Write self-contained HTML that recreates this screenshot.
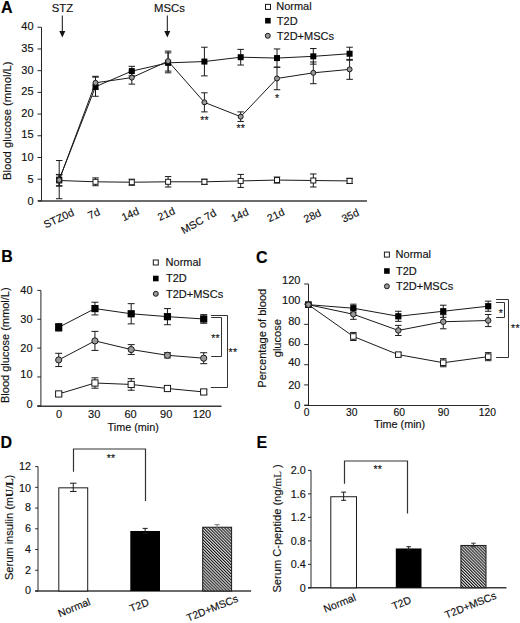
<!DOCTYPE html>
<html><head><meta charset="utf-8"><title>Figure</title>
<style>
html,body{margin:0;padding:0;background:#fff;}
svg{display:block;}
text{font-family:"Liberation Sans", sans-serif;stroke:#111;stroke-width:0.15px;}
</style></head>
<body>
<svg width="520" height="623" viewBox="0 0 520 623">
<defs>
<pattern id="hatch" patternUnits="userSpaceOnUse" width="2.15" height="4" patternTransform="rotate(-45)">
<rect width="2.15" height="4" fill="#dcdcdc"/>
<rect width="1.0" height="4" fill="#111"/>
</pattern>
</defs>
<rect width="520" height="623" fill="#fff"/>
<line x1="41.5" y1="27.25" x2="41.5" y2="201.4" stroke="#262626" stroke-width="1"/>
<line x1="38" y1="201" x2="367" y2="201" stroke="#3a3a3a" stroke-width="1.4"/>
<line x1="37.5" y1="200.9" x2="41.5" y2="200.9" stroke="#262626" stroke-width="1"/>
<text x="33.6" y="204.9" font-size="11" text-anchor="end" font-weight="normal" fill="#111">0</text>
<line x1="37.5" y1="179.19" x2="41.5" y2="179.19" stroke="#262626" stroke-width="1"/>
<text x="33.6" y="183.2" font-size="11" text-anchor="end" font-weight="normal" fill="#111">5</text>
<line x1="37.5" y1="157.49" x2="41.5" y2="157.49" stroke="#262626" stroke-width="1"/>
<text x="33.6" y="160.8" font-size="11" text-anchor="end" font-weight="normal" fill="#111">10</text>
<line x1="37.5" y1="135.78" x2="41.5" y2="135.78" stroke="#262626" stroke-width="1"/>
<text x="33.6" y="138.4" font-size="11" text-anchor="end" font-weight="normal" fill="#111">15</text>
<line x1="37.5" y1="114.07" x2="41.5" y2="114.07" stroke="#262626" stroke-width="1"/>
<text x="33.6" y="117.1" font-size="11" text-anchor="end" font-weight="normal" fill="#111">20</text>
<line x1="37.5" y1="92.37" x2="41.5" y2="92.37" stroke="#262626" stroke-width="1"/>
<text x="33.6" y="95.2" font-size="11" text-anchor="end" font-weight="normal" fill="#111">25</text>
<line x1="37.5" y1="70.66" x2="41.5" y2="70.66" stroke="#262626" stroke-width="1"/>
<text x="33.6" y="73.65" font-size="11" text-anchor="end" font-weight="normal" fill="#111">30</text>
<line x1="37.5" y1="48.96" x2="41.5" y2="48.96" stroke="#262626" stroke-width="1"/>
<text x="33.6" y="51.5" font-size="11" text-anchor="end" font-weight="normal" fill="#111">35</text>
<line x1="37.5" y1="27.25" x2="41.5" y2="27.25" stroke="#262626" stroke-width="1"/>
<text x="33.6" y="29.65" font-size="11" text-anchor="end" font-weight="normal" fill="#111">40</text>
<text x="10.8" y="120.7" font-size="11.3" text-anchor="middle" font-weight="normal" fill="#111" transform="rotate(-90 10.8 120.7)">Blood glucose (mmol/L)</text>
<line x1="59.2" y1="174.85" x2="59.2" y2="186.14" stroke="#1a1a1a" stroke-width="1"/>
<line x1="55.95" y1="174.85" x2="62.45" y2="174.85" stroke="#1a1a1a" stroke-width="1"/>
<line x1="55.95" y1="186.14" x2="62.45" y2="186.14" stroke="#1a1a1a" stroke-width="1"/>
<line x1="59.2" y1="160.53" x2="59.2" y2="198.73" stroke="#1a1a1a" stroke-width="1"/>
<line x1="55.95" y1="160.53" x2="62.45" y2="160.53" stroke="#1a1a1a" stroke-width="1"/>
<line x1="55.95" y1="198.73" x2="62.45" y2="198.73" stroke="#1a1a1a" stroke-width="1"/>
<line x1="59.2" y1="174.42" x2="59.2" y2="185.71" stroke="#1a1a1a" stroke-width="1"/>
<line x1="55.95" y1="174.42" x2="62.45" y2="174.42" stroke="#1a1a1a" stroke-width="1"/>
<line x1="55.95" y1="185.71" x2="62.45" y2="185.71" stroke="#1a1a1a" stroke-width="1"/>
<line x1="95.5" y1="177.89" x2="95.5" y2="185.71" stroke="#1a1a1a" stroke-width="1"/>
<line x1="92.25" y1="177.89" x2="98.75" y2="177.89" stroke="#1a1a1a" stroke-width="1"/>
<line x1="92.25" y1="185.71" x2="98.75" y2="185.71" stroke="#1a1a1a" stroke-width="1"/>
<line x1="95.5" y1="77.17" x2="95.5" y2="96.28" stroke="#1a1a1a" stroke-width="1"/>
<line x1="92.25" y1="77.17" x2="98.75" y2="77.17" stroke="#1a1a1a" stroke-width="1"/>
<line x1="92.25" y1="96.28" x2="98.75" y2="96.28" stroke="#1a1a1a" stroke-width="1"/>
<line x1="95.5" y1="76.31" x2="95.5" y2="89.33" stroke="#1a1a1a" stroke-width="1"/>
<line x1="92.25" y1="76.31" x2="98.75" y2="76.31" stroke="#1a1a1a" stroke-width="1"/>
<line x1="92.25" y1="89.33" x2="98.75" y2="89.33" stroke="#1a1a1a" stroke-width="1"/>
<line x1="131.8" y1="179.19" x2="131.8" y2="185.27" stroke="#1a1a1a" stroke-width="1"/>
<line x1="128.55" y1="179.19" x2="135.05" y2="179.19" stroke="#1a1a1a" stroke-width="1"/>
<line x1="128.55" y1="185.27" x2="135.05" y2="185.27" stroke="#1a1a1a" stroke-width="1"/>
<line x1="131.8" y1="66.32" x2="131.8" y2="75.87" stroke="#1a1a1a" stroke-width="1"/>
<line x1="128.55" y1="66.32" x2="135.05" y2="66.32" stroke="#1a1a1a" stroke-width="1"/>
<line x1="128.55" y1="75.87" x2="135.05" y2="75.87" stroke="#1a1a1a" stroke-width="1"/>
<line x1="131.8" y1="71.1" x2="131.8" y2="84.12" stroke="#1a1a1a" stroke-width="1"/>
<line x1="128.55" y1="71.1" x2="135.05" y2="71.1" stroke="#1a1a1a" stroke-width="1"/>
<line x1="128.55" y1="84.12" x2="135.05" y2="84.12" stroke="#1a1a1a" stroke-width="1"/>
<line x1="168.1" y1="176.59" x2="168.1" y2="187.01" stroke="#1a1a1a" stroke-width="1"/>
<line x1="164.85" y1="176.59" x2="171.35" y2="176.59" stroke="#1a1a1a" stroke-width="1"/>
<line x1="164.85" y1="187.01" x2="171.35" y2="187.01" stroke="#1a1a1a" stroke-width="1"/>
<line x1="168.1" y1="52.86" x2="168.1" y2="72.83" stroke="#1a1a1a" stroke-width="1"/>
<line x1="164.85" y1="52.86" x2="171.35" y2="52.86" stroke="#1a1a1a" stroke-width="1"/>
<line x1="164.85" y1="72.83" x2="171.35" y2="72.83" stroke="#1a1a1a" stroke-width="1"/>
<line x1="168.1" y1="51.13" x2="168.1" y2="71.1" stroke="#1a1a1a" stroke-width="1"/>
<line x1="164.85" y1="51.13" x2="171.35" y2="51.13" stroke="#1a1a1a" stroke-width="1"/>
<line x1="164.85" y1="71.1" x2="171.35" y2="71.1" stroke="#1a1a1a" stroke-width="1"/>
<line x1="204.4" y1="179.19" x2="204.4" y2="184.4" stroke="#1a1a1a" stroke-width="1"/>
<line x1="201.15" y1="179.19" x2="207.65" y2="179.19" stroke="#1a1a1a" stroke-width="1"/>
<line x1="201.15" y1="184.4" x2="207.65" y2="184.4" stroke="#1a1a1a" stroke-width="1"/>
<line x1="204.4" y1="47.22" x2="204.4" y2="75.87" stroke="#1a1a1a" stroke-width="1"/>
<line x1="201.15" y1="47.22" x2="207.65" y2="47.22" stroke="#1a1a1a" stroke-width="1"/>
<line x1="201.15" y1="75.87" x2="207.65" y2="75.87" stroke="#1a1a1a" stroke-width="1"/>
<line x1="204.4" y1="92.8" x2="204.4" y2="111.9" stroke="#1a1a1a" stroke-width="1"/>
<line x1="201.15" y1="92.8" x2="207.65" y2="92.8" stroke="#1a1a1a" stroke-width="1"/>
<line x1="201.15" y1="111.9" x2="207.65" y2="111.9" stroke="#1a1a1a" stroke-width="1"/>
<line x1="240.7" y1="174.42" x2="240.7" y2="187.44" stroke="#1a1a1a" stroke-width="1"/>
<line x1="237.45" y1="174.42" x2="243.95" y2="174.42" stroke="#1a1a1a" stroke-width="1"/>
<line x1="237.45" y1="187.44" x2="243.95" y2="187.44" stroke="#1a1a1a" stroke-width="1"/>
<line x1="240.7" y1="49.39" x2="240.7" y2="65.02" stroke="#1a1a1a" stroke-width="1"/>
<line x1="237.45" y1="49.39" x2="243.95" y2="49.39" stroke="#1a1a1a" stroke-width="1"/>
<line x1="237.45" y1="65.02" x2="243.95" y2="65.02" stroke="#1a1a1a" stroke-width="1"/>
<line x1="240.7" y1="111.9" x2="240.7" y2="121.46" stroke="#1a1a1a" stroke-width="1"/>
<line x1="237.45" y1="111.9" x2="243.95" y2="111.9" stroke="#1a1a1a" stroke-width="1"/>
<line x1="237.45" y1="121.46" x2="243.95" y2="121.46" stroke="#1a1a1a" stroke-width="1"/>
<line x1="277" y1="177.02" x2="277" y2="183.1" stroke="#1a1a1a" stroke-width="1"/>
<line x1="273.75" y1="177.02" x2="280.25" y2="177.02" stroke="#1a1a1a" stroke-width="1"/>
<line x1="273.75" y1="183.1" x2="280.25" y2="183.1" stroke="#1a1a1a" stroke-width="1"/>
<line x1="277" y1="48.96" x2="277" y2="67.19" stroke="#1a1a1a" stroke-width="1"/>
<line x1="273.75" y1="48.96" x2="280.25" y2="48.96" stroke="#1a1a1a" stroke-width="1"/>
<line x1="273.75" y1="67.19" x2="280.25" y2="67.19" stroke="#1a1a1a" stroke-width="1"/>
<line x1="277" y1="67.19" x2="277" y2="89.76" stroke="#1a1a1a" stroke-width="1"/>
<line x1="273.75" y1="67.19" x2="280.25" y2="67.19" stroke="#1a1a1a" stroke-width="1"/>
<line x1="273.75" y1="89.76" x2="280.25" y2="89.76" stroke="#1a1a1a" stroke-width="1"/>
<line x1="313.3" y1="173.98" x2="313.3" y2="187.01" stroke="#1a1a1a" stroke-width="1"/>
<line x1="310.05" y1="173.98" x2="316.55" y2="173.98" stroke="#1a1a1a" stroke-width="1"/>
<line x1="310.05" y1="187.01" x2="316.55" y2="187.01" stroke="#1a1a1a" stroke-width="1"/>
<line x1="313.3" y1="48.52" x2="313.3" y2="64.15" stroke="#1a1a1a" stroke-width="1"/>
<line x1="310.05" y1="48.52" x2="316.55" y2="48.52" stroke="#1a1a1a" stroke-width="1"/>
<line x1="310.05" y1="64.15" x2="316.55" y2="64.15" stroke="#1a1a1a" stroke-width="1"/>
<line x1="313.3" y1="61.98" x2="313.3" y2="83.69" stroke="#1a1a1a" stroke-width="1"/>
<line x1="310.05" y1="61.98" x2="316.55" y2="61.98" stroke="#1a1a1a" stroke-width="1"/>
<line x1="310.05" y1="83.69" x2="316.55" y2="83.69" stroke="#1a1a1a" stroke-width="1"/>
<line x1="349.6" y1="178.33" x2="349.6" y2="183.53" stroke="#1a1a1a" stroke-width="1"/>
<line x1="346.35" y1="178.33" x2="352.85" y2="178.33" stroke="#1a1a1a" stroke-width="1"/>
<line x1="346.35" y1="183.53" x2="352.85" y2="183.53" stroke="#1a1a1a" stroke-width="1"/>
<line x1="349.6" y1="47.22" x2="349.6" y2="60.24" stroke="#1a1a1a" stroke-width="1"/>
<line x1="346.35" y1="47.22" x2="352.85" y2="47.22" stroke="#1a1a1a" stroke-width="1"/>
<line x1="346.35" y1="60.24" x2="352.85" y2="60.24" stroke="#1a1a1a" stroke-width="1"/>
<line x1="349.6" y1="59.38" x2="349.6" y2="79.34" stroke="#1a1a1a" stroke-width="1"/>
<line x1="346.35" y1="59.38" x2="352.85" y2="59.38" stroke="#1a1a1a" stroke-width="1"/>
<line x1="346.35" y1="79.34" x2="352.85" y2="79.34" stroke="#1a1a1a" stroke-width="1"/>
<polyline points="59.2,180.5 95.5,181.8 131.8,182.23 168.1,181.8 204.4,181.8 240.7,180.93 277,180.06 313.3,180.5 349.6,180.93" fill="none" stroke="#1a1a1a" stroke-width="1"/>
<polyline points="59.2,179.63 95.5,86.73 131.8,71.1 168.1,62.85 204.4,61.55 240.7,57.2 277,58.07 313.3,56.34 349.6,53.73" fill="none" stroke="#1a1a1a" stroke-width="1"/>
<polyline points="59.2,180.06 95.5,82.82 131.8,77.61 168.1,61.11 204.4,102.35 240.7,116.68 277,78.48 313.3,72.83 349.6,69.36" fill="none" stroke="#1a1a1a" stroke-width="1"/>
<rect x="56.7" y="178" width="5" height="5" fill="#fff" stroke="#1a1a1a" stroke-width="1"/>
<rect x="56.2" y="176.63" width="6" height="6" fill="#000"/>
<circle cx="59.2" cy="180.06" r="2.5" fill="#999" stroke="#1a1a1a" stroke-width="1"/>
<rect x="93" y="179.3" width="5" height="5" fill="#fff" stroke="#1a1a1a" stroke-width="1"/>
<rect x="92.5" y="83.73" width="6" height="6" fill="#000"/>
<circle cx="95.5" cy="82.82" r="2.5" fill="#999" stroke="#1a1a1a" stroke-width="1"/>
<rect x="129.3" y="179.73" width="5" height="5" fill="#fff" stroke="#1a1a1a" stroke-width="1"/>
<rect x="128.8" y="68.1" width="6" height="6" fill="#000"/>
<circle cx="131.8" cy="77.61" r="2.5" fill="#999" stroke="#1a1a1a" stroke-width="1"/>
<rect x="165.6" y="179.3" width="5" height="5" fill="#fff" stroke="#1a1a1a" stroke-width="1"/>
<rect x="165.1" y="59.85" width="6" height="6" fill="#000"/>
<circle cx="168.1" cy="61.11" r="2.5" fill="#999" stroke="#1a1a1a" stroke-width="1"/>
<rect x="201.9" y="179.3" width="5" height="5" fill="#fff" stroke="#1a1a1a" stroke-width="1"/>
<rect x="201.4" y="58.55" width="6" height="6" fill="#000"/>
<circle cx="204.4" cy="102.35" r="2.5" fill="#999" stroke="#1a1a1a" stroke-width="1"/>
<rect x="238.2" y="178.43" width="5" height="5" fill="#fff" stroke="#1a1a1a" stroke-width="1"/>
<rect x="237.7" y="54.2" width="6" height="6" fill="#000"/>
<circle cx="240.7" cy="116.68" r="2.5" fill="#999" stroke="#1a1a1a" stroke-width="1"/>
<rect x="274.5" y="177.56" width="5" height="5" fill="#fff" stroke="#1a1a1a" stroke-width="1"/>
<rect x="274" y="55.07" width="6" height="6" fill="#000"/>
<circle cx="277" cy="78.48" r="2.5" fill="#999" stroke="#1a1a1a" stroke-width="1"/>
<rect x="310.8" y="178" width="5" height="5" fill="#fff" stroke="#1a1a1a" stroke-width="1"/>
<rect x="310.3" y="53.34" width="6" height="6" fill="#000"/>
<circle cx="313.3" cy="72.83" r="2.5" fill="#999" stroke="#1a1a1a" stroke-width="1"/>
<rect x="347.1" y="178.43" width="5" height="5" fill="#fff" stroke="#1a1a1a" stroke-width="1"/>
<rect x="346.6" y="50.73" width="6" height="6" fill="#000"/>
<circle cx="349.6" cy="69.36" r="2.5" fill="#999" stroke="#1a1a1a" stroke-width="1"/>
<text x="202.25" y="124.15" font-size="10.5" text-anchor="middle" fill="#222" stroke="none">*</text>
<text x="206.55" y="124.15" font-size="10.5" text-anchor="middle" fill="#222" stroke="none">*</text>
<text x="238.45" y="132.35" font-size="10.5" text-anchor="middle" fill="#222" stroke="none">*</text>
<text x="242.75" y="132.35" font-size="10.5" text-anchor="middle" fill="#222" stroke="none">*</text>
<text x="277" y="102.15" font-size="10.5" text-anchor="middle" fill="#222" stroke="none">*</text>
<text x="0" y="3.6" font-size="10.7" text-anchor="middle" fill="#111" transform="translate(58.8 218.4) rotate(-25)">STZ0d</text>
<text x="0" y="3.6" font-size="10.7" text-anchor="middle" fill="#111" transform="translate(93.9 213.8) rotate(-25)">7d</text>
<text x="0" y="3.6" font-size="10.7" text-anchor="middle" fill="#111" transform="translate(130.2 214.2) rotate(-25)">14d</text>
<text x="0" y="3.6" font-size="10.7" text-anchor="middle" fill="#111" transform="translate(166.3 214) rotate(-25)">21d</text>
<text x="0" y="3.6" font-size="10.7" text-anchor="middle" fill="#111" transform="translate(198.7 221.6) rotate(-30)">MSC 7d</text>
<text x="0" y="3.6" font-size="10.7" text-anchor="middle" fill="#111" transform="translate(239.7 215.1) rotate(-25)">14d</text>
<text x="0" y="3.6" font-size="10.7" text-anchor="middle" fill="#111" transform="translate(275.9 215.1) rotate(-25)">21d</text>
<text x="0" y="3.6" font-size="10.7" text-anchor="middle" fill="#111" transform="translate(312.3 215.9) rotate(-25)">28d</text>
<text x="0" y="3.6" font-size="10.7" text-anchor="middle" fill="#111" transform="translate(350.2 215.6) rotate(-25)">35d</text>
<text x="62.5" y="11.8" font-size="11.3" text-anchor="middle" font-weight="normal" fill="#111">STZ</text>
<line x1="62.3" y1="15.5" x2="62.3" y2="32" stroke="#111" stroke-width="1"/>
<polygon points="59.3,31 65.3,31 62.3,37.5" fill="#111"/>
<text x="169.5" y="11.8" font-size="11.3" text-anchor="middle" font-weight="normal" fill="#111">MSCs</text>
<line x1="167.3" y1="15.5" x2="167.3" y2="32" stroke="#111" stroke-width="1"/>
<polygon points="164.3,31 170.3,31 167.3,37.5" fill="#111"/>
<rect x="265.5" y="4.4" width="5" height="5" fill="#fff" stroke="#1a1a1a" stroke-width="1"/>
<text x="276.2" y="9.6" font-size="11" text-anchor="start" font-weight="normal" fill="#111">Normal</text>
<rect x="265.1" y="17.9" width="5.6" height="5.6" fill="#000"/>
<text x="276.8" y="25" font-size="11" text-anchor="start" font-weight="normal" fill="#111">T2D</text>
<circle cx="267.8" cy="35.8" r="2.5" fill="#999" stroke="#1a1a1a" stroke-width="1"/>
<text x="276.8" y="40.3" font-size="11" text-anchor="start" font-weight="normal" fill="#111">T2D+MSCs</text>
<text x="1" y="13.4" font-size="16" text-anchor="start" font-weight="bold" fill="#000">A</text>
<line x1="40.9" y1="290.4" x2="40.9" y2="406.3" stroke="#262626" stroke-width="1"/>
<line x1="37.2" y1="406.3" x2="221.5" y2="406.3" stroke="#3a3a3a" stroke-width="1.4"/>
<line x1="37.3" y1="405.8" x2="40.9" y2="405.8" stroke="#262626" stroke-width="1"/>
<text x="32.6" y="407.9" font-size="11" text-anchor="end" font-weight="normal" fill="#111">0</text>
<line x1="37.3" y1="376.95" x2="40.9" y2="376.95" stroke="#262626" stroke-width="1"/>
<text x="32.6" y="378.4" font-size="11" text-anchor="end" font-weight="normal" fill="#111">10</text>
<line x1="37.3" y1="348.1" x2="40.9" y2="348.1" stroke="#262626" stroke-width="1"/>
<text x="32.6" y="351.8" font-size="11" text-anchor="end" font-weight="normal" fill="#111">20</text>
<line x1="37.3" y1="319.25" x2="40.9" y2="319.25" stroke="#262626" stroke-width="1"/>
<text x="32.6" y="323.3" font-size="11" text-anchor="end" font-weight="normal" fill="#111">30</text>
<line x1="37.3" y1="290.4" x2="40.9" y2="290.4" stroke="#262626" stroke-width="1"/>
<text x="32.6" y="293.6" font-size="11" text-anchor="end" font-weight="normal" fill="#111">40</text>
<text x="9.4" y="345.2" font-size="11" text-anchor="middle" font-weight="normal" fill="#111" transform="rotate(-90 9.4 345.2)">Blood glucose (mmol/L)</text>
<text x="59" y="418" font-size="11" text-anchor="middle" font-weight="normal" fill="#111">0</text>
<text x="94.2" y="418" font-size="11" text-anchor="middle" font-weight="normal" fill="#111">30</text>
<text x="130.6" y="418" font-size="11" text-anchor="middle" font-weight="normal" fill="#111">60</text>
<text x="166.2" y="418" font-size="11" text-anchor="middle" font-weight="normal" fill="#111">90</text>
<text x="202" y="418" font-size="11" text-anchor="middle" font-weight="normal" fill="#111">120</text>
<text x="133.2" y="431" font-size="10.8" text-anchor="middle" font-weight="normal" fill="#111">Time (min)</text>
<line x1="58.7" y1="392.24" x2="58.7" y2="395.7" stroke="#1a1a1a" stroke-width="1"/>
<line x1="55.2" y1="392.24" x2="62.2" y2="392.24" stroke="#1a1a1a" stroke-width="1"/>
<line x1="55.2" y1="395.7" x2="62.2" y2="395.7" stroke="#1a1a1a" stroke-width="1"/>
<line x1="58.7" y1="323.58" x2="58.7" y2="331.08" stroke="#1a1a1a" stroke-width="1"/>
<line x1="55.2" y1="323.58" x2="62.2" y2="323.58" stroke="#1a1a1a" stroke-width="1"/>
<line x1="55.2" y1="331.08" x2="62.2" y2="331.08" stroke="#1a1a1a" stroke-width="1"/>
<line x1="58.7" y1="353.29" x2="58.7" y2="366.56" stroke="#1a1a1a" stroke-width="1"/>
<line x1="55.2" y1="353.29" x2="62.2" y2="353.29" stroke="#1a1a1a" stroke-width="1"/>
<line x1="55.2" y1="366.56" x2="62.2" y2="366.56" stroke="#1a1a1a" stroke-width="1"/>
<line x1="94.95" y1="377.82" x2="94.95" y2="388.2" stroke="#1a1a1a" stroke-width="1"/>
<line x1="91.45" y1="377.82" x2="98.45" y2="377.82" stroke="#1a1a1a" stroke-width="1"/>
<line x1="91.45" y1="388.2" x2="98.45" y2="388.2" stroke="#1a1a1a" stroke-width="1"/>
<line x1="94.95" y1="302.23" x2="94.95" y2="314.92" stroke="#1a1a1a" stroke-width="1"/>
<line x1="91.45" y1="302.23" x2="98.45" y2="302.23" stroke="#1a1a1a" stroke-width="1"/>
<line x1="91.45" y1="314.92" x2="98.45" y2="314.92" stroke="#1a1a1a" stroke-width="1"/>
<line x1="94.95" y1="331.37" x2="94.95" y2="350.41" stroke="#1a1a1a" stroke-width="1"/>
<line x1="91.45" y1="331.37" x2="98.45" y2="331.37" stroke="#1a1a1a" stroke-width="1"/>
<line x1="91.45" y1="350.41" x2="98.45" y2="350.41" stroke="#1a1a1a" stroke-width="1"/>
<line x1="131.2" y1="378.68" x2="131.2" y2="390.22" stroke="#1a1a1a" stroke-width="1"/>
<line x1="127.7" y1="378.68" x2="134.7" y2="378.68" stroke="#1a1a1a" stroke-width="1"/>
<line x1="127.7" y1="390.22" x2="134.7" y2="390.22" stroke="#1a1a1a" stroke-width="1"/>
<line x1="131.2" y1="303.67" x2="131.2" y2="323.87" stroke="#1a1a1a" stroke-width="1"/>
<line x1="127.7" y1="303.67" x2="134.7" y2="303.67" stroke="#1a1a1a" stroke-width="1"/>
<line x1="127.7" y1="323.87" x2="134.7" y2="323.87" stroke="#1a1a1a" stroke-width="1"/>
<line x1="131.2" y1="344.64" x2="131.2" y2="354.45" stroke="#1a1a1a" stroke-width="1"/>
<line x1="127.7" y1="344.64" x2="134.7" y2="344.64" stroke="#1a1a1a" stroke-width="1"/>
<line x1="127.7" y1="354.45" x2="134.7" y2="354.45" stroke="#1a1a1a" stroke-width="1"/>
<line x1="167.45" y1="386.76" x2="167.45" y2="390.22" stroke="#1a1a1a" stroke-width="1"/>
<line x1="163.95" y1="386.76" x2="170.95" y2="386.76" stroke="#1a1a1a" stroke-width="1"/>
<line x1="163.95" y1="390.22" x2="170.95" y2="390.22" stroke="#1a1a1a" stroke-width="1"/>
<line x1="167.45" y1="308.58" x2="167.45" y2="324.73" stroke="#1a1a1a" stroke-width="1"/>
<line x1="163.95" y1="308.58" x2="170.95" y2="308.58" stroke="#1a1a1a" stroke-width="1"/>
<line x1="163.95" y1="324.73" x2="170.95" y2="324.73" stroke="#1a1a1a" stroke-width="1"/>
<line x1="167.45" y1="352.72" x2="167.45" y2="357.91" stroke="#1a1a1a" stroke-width="1"/>
<line x1="163.95" y1="352.72" x2="170.95" y2="352.72" stroke="#1a1a1a" stroke-width="1"/>
<line x1="163.95" y1="357.91" x2="170.95" y2="357.91" stroke="#1a1a1a" stroke-width="1"/>
<line x1="203.7" y1="389.93" x2="203.7" y2="393.97" stroke="#1a1a1a" stroke-width="1"/>
<line x1="200.2" y1="389.93" x2="207.2" y2="389.93" stroke="#1a1a1a" stroke-width="1"/>
<line x1="200.2" y1="393.97" x2="207.2" y2="393.97" stroke="#1a1a1a" stroke-width="1"/>
<line x1="203.7" y1="314.63" x2="203.7" y2="323.29" stroke="#1a1a1a" stroke-width="1"/>
<line x1="200.2" y1="314.63" x2="207.2" y2="314.63" stroke="#1a1a1a" stroke-width="1"/>
<line x1="200.2" y1="323.29" x2="207.2" y2="323.29" stroke="#1a1a1a" stroke-width="1"/>
<line x1="203.7" y1="352.72" x2="203.7" y2="363.68" stroke="#1a1a1a" stroke-width="1"/>
<line x1="200.2" y1="352.72" x2="207.2" y2="352.72" stroke="#1a1a1a" stroke-width="1"/>
<line x1="200.2" y1="363.68" x2="207.2" y2="363.68" stroke="#1a1a1a" stroke-width="1"/>
<polyline points="58.7,393.97 94.95,383.01 131.2,384.45 167.45,388.49 203.7,391.95" fill="none" stroke="#1a1a1a" stroke-width="1"/>
<polyline points="58.7,327.33 94.95,308.58 131.2,313.77 167.45,316.65 203.7,318.96" fill="none" stroke="#1a1a1a" stroke-width="1"/>
<polyline points="58.7,359.93 94.95,340.89 131.2,349.54 167.45,355.31 203.7,358.2" fill="none" stroke="#1a1a1a" stroke-width="1"/>
<rect x="55.6" y="390.87" width="6.2" height="6.2" fill="#fff" stroke="#1a1a1a" stroke-width="1"/>
<rect x="55.1" y="323.73" width="7.2" height="7.2" fill="#000"/>
<circle cx="58.7" cy="359.93" r="3.1" fill="#999" stroke="#1a1a1a" stroke-width="1"/>
<rect x="91.85" y="379.91" width="6.2" height="6.2" fill="#fff" stroke="#1a1a1a" stroke-width="1"/>
<rect x="91.35" y="304.98" width="7.2" height="7.2" fill="#000"/>
<circle cx="94.95" cy="340.89" r="3.1" fill="#999" stroke="#1a1a1a" stroke-width="1"/>
<rect x="128.1" y="381.35" width="6.2" height="6.2" fill="#fff" stroke="#1a1a1a" stroke-width="1"/>
<rect x="127.6" y="310.17" width="7.2" height="7.2" fill="#000"/>
<circle cx="131.2" cy="349.54" r="3.1" fill="#999" stroke="#1a1a1a" stroke-width="1"/>
<rect x="164.35" y="385.39" width="6.2" height="6.2" fill="#fff" stroke="#1a1a1a" stroke-width="1"/>
<rect x="163.85" y="313.05" width="7.2" height="7.2" fill="#000"/>
<circle cx="167.45" cy="355.31" r="3.1" fill="#999" stroke="#1a1a1a" stroke-width="1"/>
<rect x="200.6" y="388.85" width="6.2" height="6.2" fill="#fff" stroke="#1a1a1a" stroke-width="1"/>
<rect x="200.1" y="315.36" width="7.2" height="7.2" fill="#000"/>
<circle cx="203.7" cy="358.2" r="3.1" fill="#999" stroke="#1a1a1a" stroke-width="1"/>
<polyline points="210.8,315.5 227.5,315.5 227.5,387.5 210.8,387.5" fill="none" stroke="#333" stroke-width="1"/>
<polyline points="211.2,317.5 221.5,317.5 221.5,356.5 211.2,356.5" fill="none" stroke="#333" stroke-width="1"/>
<text x="213.35" y="341.85" font-size="10.5" text-anchor="middle" fill="#222" stroke="none">*</text>
<text x="217.65" y="341.85" font-size="10.5" text-anchor="middle" fill="#222" stroke="none">*</text>
<text x="230.65" y="355.55" font-size="10.5" text-anchor="middle" fill="#222" stroke="none">*</text>
<text x="234.95" y="355.55" font-size="10.5" text-anchor="middle" fill="#222" stroke="none">*</text>
<rect x="153.3" y="260" width="5" height="5" fill="#fff" stroke="#1a1a1a" stroke-width="1"/>
<text x="165.6" y="266.3" font-size="11" text-anchor="start" font-weight="normal" fill="#111">Normal</text>
<rect x="153" y="275.7" width="5.6" height="5.6" fill="#000"/>
<text x="166" y="282.3" font-size="11" text-anchor="start" font-weight="normal" fill="#111">T2D</text>
<circle cx="155.8" cy="293.8" r="2.5" fill="#999" stroke="#1a1a1a" stroke-width="1"/>
<text x="166" y="297.6" font-size="11" text-anchor="start" font-weight="normal" fill="#111">T2D+MSCs</text>
<text x="1.3" y="262.4" font-size="16" text-anchor="start" font-weight="bold" fill="#000">B</text>
<line x1="308.5" y1="284" x2="308.5" y2="405.6" stroke="#262626" stroke-width="1"/>
<line x1="304.2" y1="405.5" x2="488.8" y2="405.5" stroke="#2a2a2a" stroke-width="1.2"/>
<line x1="304.2" y1="405.1" x2="308.5" y2="405.1" stroke="#262626" stroke-width="1"/>
<text x="300.4" y="408.5" font-size="11" text-anchor="end" font-weight="normal" fill="#111">0</text>
<line x1="304.2" y1="384.92" x2="308.5" y2="384.92" stroke="#262626" stroke-width="1"/>
<text x="300.4" y="389.3" font-size="11" text-anchor="end" font-weight="normal" fill="#111">20</text>
<line x1="304.2" y1="364.73" x2="308.5" y2="364.73" stroke="#262626" stroke-width="1"/>
<text x="300.4" y="366.4" font-size="11" text-anchor="end" font-weight="normal" fill="#111">40</text>
<line x1="304.2" y1="344.55" x2="308.5" y2="344.55" stroke="#262626" stroke-width="1"/>
<text x="300.4" y="345.5" font-size="11" text-anchor="end" font-weight="normal" fill="#111">60</text>
<line x1="304.2" y1="324.37" x2="308.5" y2="324.37" stroke="#262626" stroke-width="1"/>
<text x="300.4" y="325.1" font-size="11" text-anchor="end" font-weight="normal" fill="#111">80</text>
<line x1="304.2" y1="304.18" x2="308.5" y2="304.18" stroke="#262626" stroke-width="1"/>
<text x="300.4" y="303.9" font-size="11" text-anchor="end" font-weight="normal" fill="#111">100</text>
<line x1="304.2" y1="284" x2="308.5" y2="284" stroke="#262626" stroke-width="1"/>
<text x="300.4" y="283.9" font-size="11" text-anchor="end" font-weight="normal" fill="#111">120</text>
<text font-size="11.05" text-anchor="middle" fill="#111" transform="translate(266.1 338.2) rotate(-90)"><tspan x="0" y="0">Percentage of blood</tspan><tspan x="0" y="15.3">glucose</tspan></text>
<text x="306.5" y="415.8" font-size="10.3" text-anchor="middle" font-weight="normal" fill="#111">0</text>
<text x="351.7" y="415.8" font-size="10.3" text-anchor="middle" font-weight="normal" fill="#111">30</text>
<text x="399.2" y="415.8" font-size="10.3" text-anchor="middle" font-weight="normal" fill="#111">60</text>
<text x="443.5" y="415.8" font-size="10.3" text-anchor="middle" font-weight="normal" fill="#111">90</text>
<text x="487.3" y="415.8" font-size="10.3" text-anchor="middle" font-weight="normal" fill="#111">120</text>
<text x="399.6" y="427.6" font-size="10.8" text-anchor="middle" font-weight="normal" fill="#111">Time (min)</text>
<line x1="353.35" y1="332.44" x2="353.35" y2="340.51" stroke="#1a1a1a" stroke-width="1"/>
<line x1="350.1" y1="332.44" x2="356.6" y2="332.44" stroke="#1a1a1a" stroke-width="1"/>
<line x1="350.1" y1="340.51" x2="356.6" y2="340.51" stroke="#1a1a1a" stroke-width="1"/>
<line x1="353.35" y1="304.18" x2="353.35" y2="312.26" stroke="#1a1a1a" stroke-width="1"/>
<line x1="350.1" y1="304.18" x2="356.6" y2="304.18" stroke="#1a1a1a" stroke-width="1"/>
<line x1="350.1" y1="312.26" x2="356.6" y2="312.26" stroke="#1a1a1a" stroke-width="1"/>
<line x1="353.35" y1="309.23" x2="353.35" y2="319.32" stroke="#1a1a1a" stroke-width="1"/>
<line x1="350.1" y1="309.23" x2="356.6" y2="309.23" stroke="#1a1a1a" stroke-width="1"/>
<line x1="350.1" y1="319.32" x2="356.6" y2="319.32" stroke="#1a1a1a" stroke-width="1"/>
<line x1="398.3" y1="352.62" x2="398.3" y2="356.66" stroke="#1a1a1a" stroke-width="1"/>
<line x1="395.05" y1="352.62" x2="401.55" y2="352.62" stroke="#1a1a1a" stroke-width="1"/>
<line x1="395.05" y1="356.66" x2="401.55" y2="356.66" stroke="#1a1a1a" stroke-width="1"/>
<line x1="398.3" y1="311.25" x2="398.3" y2="321.34" stroke="#1a1a1a" stroke-width="1"/>
<line x1="395.05" y1="311.25" x2="401.55" y2="311.25" stroke="#1a1a1a" stroke-width="1"/>
<line x1="395.05" y1="321.34" x2="401.55" y2="321.34" stroke="#1a1a1a" stroke-width="1"/>
<line x1="398.3" y1="325.38" x2="398.3" y2="335.47" stroke="#1a1a1a" stroke-width="1"/>
<line x1="395.05" y1="325.38" x2="401.55" y2="325.38" stroke="#1a1a1a" stroke-width="1"/>
<line x1="395.05" y1="335.47" x2="401.55" y2="335.47" stroke="#1a1a1a" stroke-width="1"/>
<line x1="443.25" y1="358.68" x2="443.25" y2="366.75" stroke="#1a1a1a" stroke-width="1"/>
<line x1="440" y1="358.68" x2="446.5" y2="358.68" stroke="#1a1a1a" stroke-width="1"/>
<line x1="440" y1="366.75" x2="446.5" y2="366.75" stroke="#1a1a1a" stroke-width="1"/>
<line x1="443.25" y1="305.19" x2="443.25" y2="317.3" stroke="#1a1a1a" stroke-width="1"/>
<line x1="440" y1="305.19" x2="446.5" y2="305.19" stroke="#1a1a1a" stroke-width="1"/>
<line x1="440" y1="317.3" x2="446.5" y2="317.3" stroke="#1a1a1a" stroke-width="1"/>
<line x1="443.25" y1="314.68" x2="443.25" y2="328.81" stroke="#1a1a1a" stroke-width="1"/>
<line x1="440" y1="314.68" x2="446.5" y2="314.68" stroke="#1a1a1a" stroke-width="1"/>
<line x1="440" y1="328.81" x2="446.5" y2="328.81" stroke="#1a1a1a" stroke-width="1"/>
<line x1="488.2" y1="352.62" x2="488.2" y2="360.7" stroke="#1a1a1a" stroke-width="1"/>
<line x1="484.95" y1="352.62" x2="491.45" y2="352.62" stroke="#1a1a1a" stroke-width="1"/>
<line x1="484.95" y1="360.7" x2="491.45" y2="360.7" stroke="#1a1a1a" stroke-width="1"/>
<line x1="488.2" y1="301.16" x2="488.2" y2="311.25" stroke="#1a1a1a" stroke-width="1"/>
<line x1="484.95" y1="301.16" x2="491.45" y2="301.16" stroke="#1a1a1a" stroke-width="1"/>
<line x1="484.95" y1="311.25" x2="491.45" y2="311.25" stroke="#1a1a1a" stroke-width="1"/>
<line x1="488.2" y1="314.48" x2="488.2" y2="326.59" stroke="#1a1a1a" stroke-width="1"/>
<line x1="484.95" y1="314.48" x2="491.45" y2="314.48" stroke="#1a1a1a" stroke-width="1"/>
<line x1="484.95" y1="326.59" x2="491.45" y2="326.59" stroke="#1a1a1a" stroke-width="1"/>
<polyline points="308.4,304.69 353.35,336.48 398.3,354.64 443.25,362.72 488.2,356.66" fill="none" stroke="#1a1a1a" stroke-width="1"/>
<polyline points="308.4,304.69 353.35,308.22 398.3,316.29 443.25,311.25 488.2,306.2" fill="none" stroke="#1a1a1a" stroke-width="1"/>
<polyline points="308.4,304.69 353.35,314.28 398.3,330.42 443.25,321.74 488.2,320.53" fill="none" stroke="#1a1a1a" stroke-width="1"/>
<rect x="305.65" y="301.94" width="5.5" height="5.5" fill="#fff" stroke="#1a1a1a" stroke-width="1"/>
<rect x="305.3" y="301.59" width="6.2" height="6.2" fill="#000"/>
<circle cx="308.4" cy="304.69" r="2.75" fill="#999" stroke="#1a1a1a" stroke-width="1"/>
<rect x="350.6" y="333.73" width="5.5" height="5.5" fill="#fff" stroke="#1a1a1a" stroke-width="1"/>
<rect x="350.25" y="305.12" width="6.2" height="6.2" fill="#000"/>
<circle cx="353.35" cy="314.28" r="2.75" fill="#999" stroke="#1a1a1a" stroke-width="1"/>
<rect x="395.55" y="351.89" width="5.5" height="5.5" fill="#fff" stroke="#1a1a1a" stroke-width="1"/>
<rect x="395.2" y="313.19" width="6.2" height="6.2" fill="#000"/>
<circle cx="398.3" cy="330.42" r="2.75" fill="#999" stroke="#1a1a1a" stroke-width="1"/>
<rect x="440.5" y="359.97" width="5.5" height="5.5" fill="#fff" stroke="#1a1a1a" stroke-width="1"/>
<rect x="440.15" y="308.15" width="6.2" height="6.2" fill="#000"/>
<circle cx="443.25" cy="321.74" r="2.75" fill="#999" stroke="#1a1a1a" stroke-width="1"/>
<rect x="485.45" y="353.91" width="5.5" height="5.5" fill="#fff" stroke="#1a1a1a" stroke-width="1"/>
<rect x="485.1" y="303.1" width="6.2" height="6.2" fill="#000"/>
<circle cx="488.2" cy="320.53" r="2.75" fill="#999" stroke="#1a1a1a" stroke-width="1"/>
<polyline points="496.1,299.5 508.5,299.5 508.5,357.5 496.1,357.5" fill="none" stroke="#333" stroke-width="1"/>
<polyline points="496.1,302.5 504.5,302.5 504.5,317.5 496.1,317.5" fill="none" stroke="#333" stroke-width="1"/>
<text x="500.8" y="317.25" font-size="10.5" text-anchor="middle" fill="#222" stroke="none">*</text>
<text x="513.15" y="332.25" font-size="10.5" text-anchor="middle" fill="#222" stroke="none">*</text>
<text x="517.45" y="332.25" font-size="10.5" text-anchor="middle" fill="#222" stroke="none">*</text>
<rect x="384.4" y="252.1" width="5" height="5" fill="#fff" stroke="#1a1a1a" stroke-width="1"/>
<text x="395.6" y="258.4" font-size="11" text-anchor="start" font-weight="normal" fill="#111">Normal</text>
<rect x="384.1" y="268.2" width="5.6" height="5.6" fill="#000"/>
<text x="396" y="274.8" font-size="11" text-anchor="start" font-weight="normal" fill="#111">T2D</text>
<circle cx="386.9" cy="286.3" r="2.5" fill="#999" stroke="#1a1a1a" stroke-width="1"/>
<text x="396" y="290.1" font-size="11" text-anchor="start" font-weight="normal" fill="#111">T2D+MSCs</text>
<text x="256" y="262.8" font-size="16" text-anchor="start" font-weight="bold" fill="#000">C</text>
<line x1="38" y1="466.6" x2="38" y2="591.5" stroke="#262626" stroke-width="1"/>
<line x1="35.2" y1="591" x2="251.1" y2="591" stroke="#3a3a3a" stroke-width="1.4"/>
<line x1="35.2" y1="591" x2="38" y2="591" stroke="#262626" stroke-width="1"/>
<text x="31" y="593.5" font-size="10.8" text-anchor="end" font-weight="normal" fill="#111">0</text>
<line x1="35.2" y1="570.27" x2="38" y2="570.27" stroke="#262626" stroke-width="1"/>
<text x="31" y="574.4" font-size="10.8" text-anchor="end" font-weight="normal" fill="#111">2</text>
<line x1="35.2" y1="549.53" x2="38" y2="549.53" stroke="#262626" stroke-width="1"/>
<text x="31" y="553.2" font-size="10.8" text-anchor="end" font-weight="normal" fill="#111">4</text>
<line x1="35.2" y1="528.8" x2="38" y2="528.8" stroke="#262626" stroke-width="1"/>
<text x="31" y="532.3" font-size="10.8" text-anchor="end" font-weight="normal" fill="#111">6</text>
<line x1="35.2" y1="508.07" x2="38" y2="508.07" stroke="#262626" stroke-width="1"/>
<text x="31" y="511.4" font-size="10.8" text-anchor="end" font-weight="normal" fill="#111">8</text>
<line x1="35.2" y1="487.33" x2="38" y2="487.33" stroke="#262626" stroke-width="1"/>
<text x="31" y="491.8" font-size="10.8" text-anchor="end" font-weight="normal" fill="#111">10</text>
<line x1="35.2" y1="466.6" x2="38" y2="466.6" stroke="#262626" stroke-width="1"/>
<text x="31" y="470.1" font-size="10.8" text-anchor="end" font-weight="normal" fill="#111">12</text>
<text font-size="11.1" text-anchor="middle" fill="#111" transform="translate(12.6 527.4) rotate(-90)">Serum insulin (m<tspan font-family="Liberation Serif" font-weight="bold">U/L</tspan>)</text>
<rect x="58.8" y="487.83" width="28.9" height="103.17" fill="#fff" stroke="#1a1a1a"/>
<line x1="73.25" y1="483.19" x2="73.25" y2="491.48" stroke="#1a1a1a" stroke-width="1"/>
<line x1="70" y1="483.19" x2="76.5" y2="483.19" stroke="#1a1a1a" stroke-width="1"/>
<line x1="70" y1="491.48" x2="76.5" y2="491.48" stroke="#1a1a1a" stroke-width="1"/>
<rect x="130.3" y="530.98" width="29.7" height="60.02" fill="#000"/>
<line x1="145.15" y1="528.39" x2="145.15" y2="533.57" stroke="#1a1a1a" stroke-width="1"/>
<line x1="142.65" y1="528.39" x2="147.65" y2="528.39" stroke="#1a1a1a" stroke-width="1"/>
<line x1="142.65" y1="533.57" x2="147.65" y2="533.57" stroke="#1a1a1a" stroke-width="1"/>
<rect x="202.7" y="527.23" width="28.9" height="63.77" fill="url(#hatch)" stroke="#1a1a1a"/>
<line x1="217.15" y1="524.65" x2="217.15" y2="528.8" stroke="#777" stroke-width="1"/>
<line x1="214.65" y1="524.65" x2="219.65" y2="524.65" stroke="#777" stroke-width="1"/>
<line x1="214.65" y1="528.8" x2="219.65" y2="528.8" stroke="#777" stroke-width="1"/>
<polyline points="73.5,471.8 73.5,449 145.5,449 145.5,501.1" fill="none" stroke="#333" stroke-width="1.2"/>
<text x="108.85" y="462.25" font-size="10.5" text-anchor="middle" fill="#222" stroke="none">*</text>
<text x="113.15" y="462.25" font-size="10.5" text-anchor="middle" fill="#222" stroke="none">*</text>
<text x="0" y="3.6" font-size="10.5" text-anchor="middle" fill="#111" transform="translate(74.1 607.5) rotate(-22)">Normal</text>
<text x="0" y="3.6" font-size="10.5" text-anchor="middle" fill="#111" transform="translate(139.2 605.3) rotate(-22)">T2D</text>
<text x="0" y="3.6" font-size="10.5" text-anchor="middle" fill="#111" transform="translate(212.2 608.2) rotate(-22)">T2D+MSCs</text>
<text x="0.5" y="447.6" font-size="16" text-anchor="start" font-weight="bold" fill="#000">D</text>
<line x1="311" y1="470.4" x2="311" y2="588.3" stroke="#262626" stroke-width="1"/>
<line x1="308" y1="587.8" x2="506.5" y2="587.8" stroke="#3a3a3a" stroke-width="1.4"/>
<line x1="308" y1="587.8" x2="311" y2="587.8" stroke="#262626" stroke-width="1"/>
<text x="305.8" y="591.6" font-size="10.8" text-anchor="end" font-weight="normal" fill="#111">0</text>
<line x1="308" y1="564.32" x2="311" y2="564.32" stroke="#262626" stroke-width="1"/>
<text x="305.8" y="568.12" font-size="10.8" text-anchor="end" font-weight="normal" fill="#111">0.4</text>
<line x1="308" y1="540.84" x2="311" y2="540.84" stroke="#262626" stroke-width="1"/>
<text x="305.8" y="544.64" font-size="10.8" text-anchor="end" font-weight="normal" fill="#111">0.8</text>
<line x1="308" y1="517.36" x2="311" y2="517.36" stroke="#262626" stroke-width="1"/>
<text x="305.8" y="521.16" font-size="10.8" text-anchor="end" font-weight="normal" fill="#111">1.2</text>
<line x1="308" y1="493.88" x2="311" y2="493.88" stroke="#262626" stroke-width="1"/>
<text x="305.8" y="497.68" font-size="10.8" text-anchor="end" font-weight="normal" fill="#111">1.6</text>
<line x1="308" y1="470.4" x2="311" y2="470.4" stroke="#262626" stroke-width="1"/>
<text x="305.8" y="474.2" font-size="10.8" text-anchor="end" font-weight="normal" fill="#111">2.0</text>
<text font-size="11.1" text-anchor="middle" fill="#111" transform="translate(280.8 528.4) rotate(-90)">Serum C-peptide (ng/<tspan font-family="Liberation Serif">mL</tspan> )</text>
<rect x="330.8" y="496.73" width="25.7" height="91.07" fill="#fff" stroke="#1a1a1a"/>
<line x1="343.65" y1="492.12" x2="343.65" y2="500.34" stroke="#1a1a1a" stroke-width="1"/>
<line x1="341.15" y1="492.12" x2="346.15" y2="492.12" stroke="#1a1a1a" stroke-width="1"/>
<line x1="341.15" y1="500.34" x2="346.15" y2="500.34" stroke="#1a1a1a" stroke-width="1"/>
<rect x="395.8" y="548.47" width="25.7" height="39.33" fill="#000"/>
<line x1="408.65" y1="546.71" x2="408.65" y2="550.23" stroke="#1a1a1a" stroke-width="1"/>
<line x1="406.4" y1="546.71" x2="410.9" y2="546.71" stroke="#1a1a1a" stroke-width="1"/>
<line x1="406.4" y1="550.23" x2="410.9" y2="550.23" stroke="#1a1a1a" stroke-width="1"/>
<rect x="460.9" y="545.45" width="25.1" height="42.35" fill="url(#hatch)" stroke="#1a1a1a"/>
<line x1="473.45" y1="543.19" x2="473.45" y2="546.71" stroke="#333" stroke-width="1"/>
<line x1="471.2" y1="543.19" x2="475.7" y2="543.19" stroke="#333" stroke-width="1"/>
<line x1="471.2" y1="546.71" x2="475.7" y2="546.71" stroke="#333" stroke-width="1"/>
<polyline points="344.5,483.8 344.5,461 407.5,461 407.5,513.5" fill="none" stroke="#333" stroke-width="1.2"/>
<text x="375.55" y="473.15" font-size="10.5" text-anchor="middle" fill="#222" stroke="none">*</text>
<text x="379.85" y="473.15" font-size="10.5" text-anchor="middle" fill="#222" stroke="none">*</text>
<text x="0" y="3.6" font-size="10.5" text-anchor="middle" fill="#111" transform="translate(339.6 603.1) rotate(-22)">Normal</text>
<text x="0" y="3.6" font-size="10.5" text-anchor="middle" fill="#111" transform="translate(401.5 603) rotate(-22)">T2D</text>
<text x="0" y="3.6" font-size="10.5" text-anchor="middle" fill="#111" transform="translate(470.5 605.2) rotate(-22)">T2D+MSCs</text>
<text x="256.5" y="447.6" font-size="16" text-anchor="start" font-weight="bold" fill="#000">E</text>
</svg>
</body></html>
